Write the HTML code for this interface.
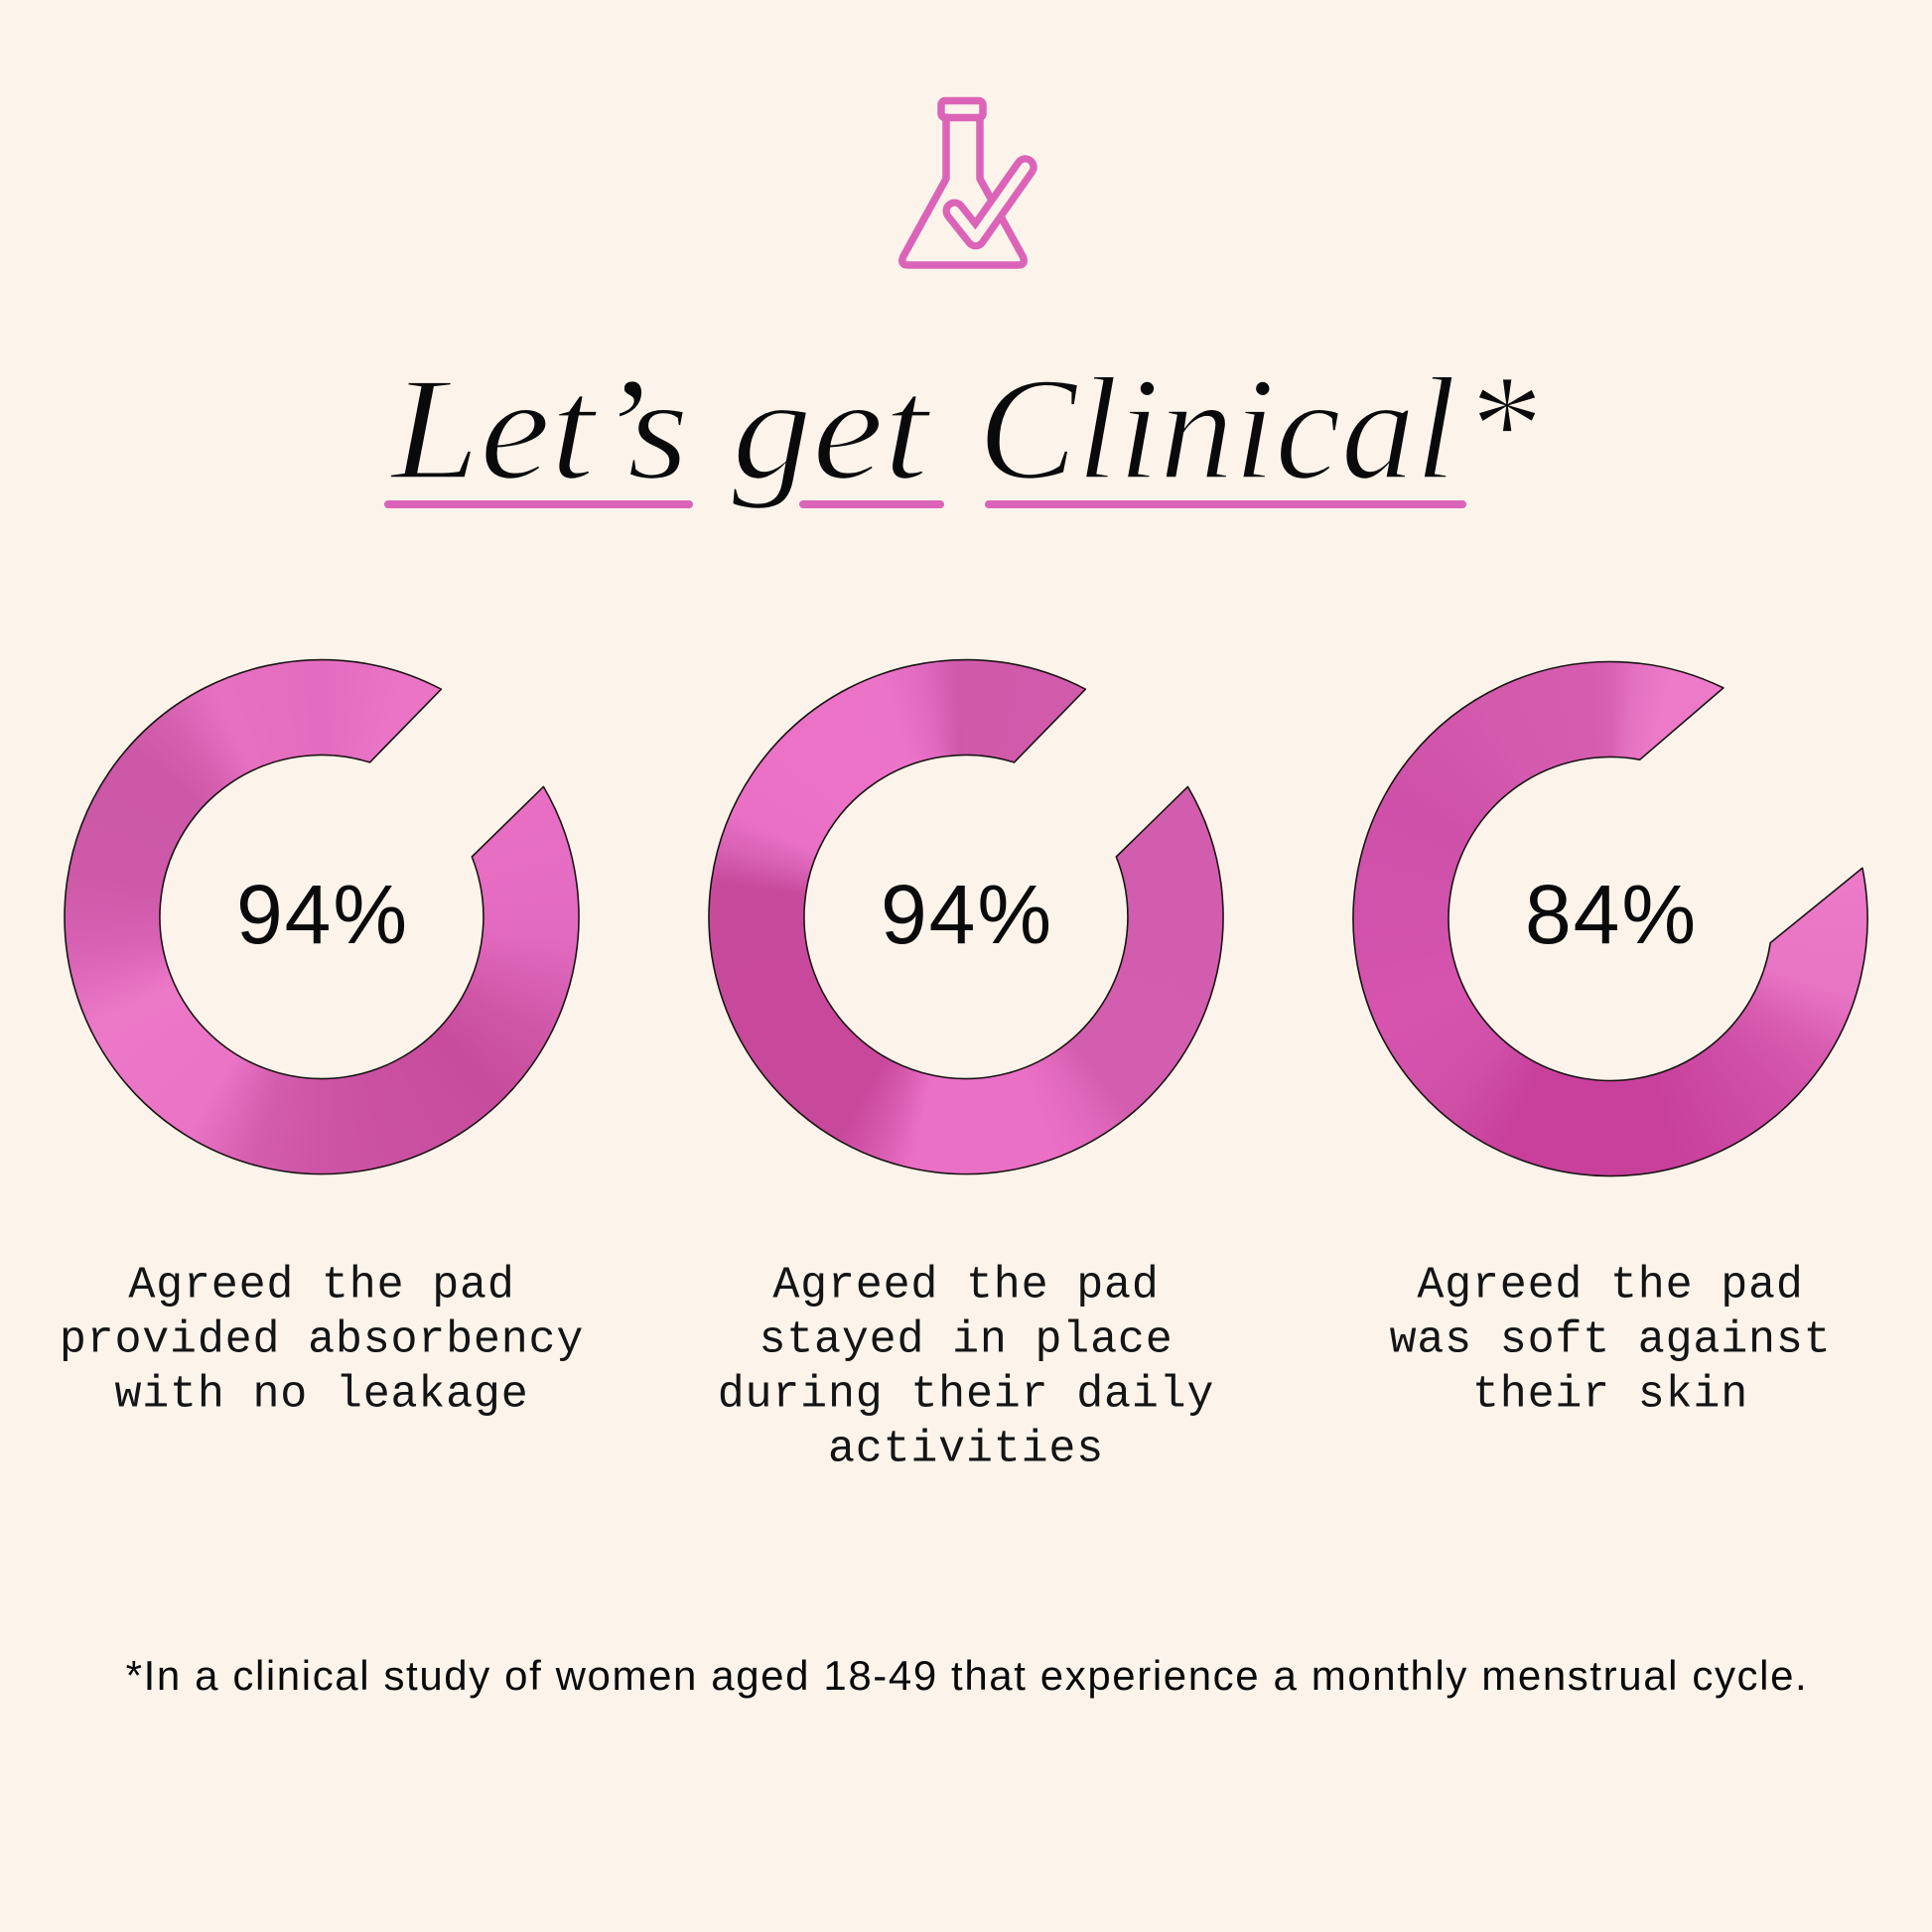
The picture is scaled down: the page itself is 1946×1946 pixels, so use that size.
<!DOCTYPE html>
<html>
<head>
<meta charset="utf-8">
<style>
  html,body{margin:0;padding:0;}
  body{width:1946px;height:1946px;background:#fcf4eb;position:relative;overflow:hidden;}
  .d{position:absolute;left:0;top:0;width:1946px;height:1946px;}
  svg{position:absolute;left:0;top:0;}
</style>
</head>
<body>

<div class="d" style="background:conic-gradient(from 0deg at 324px 923.5px, #e46cc0 0deg, #ea74c6 20deg, #e86fc4 60deg, #e26ac0 95deg, #cf56a6 118deg, #c84c9e 135deg, #cc52a3 175deg, #d45cad 195deg, #ea74c6 212deg, #ec78c8 245deg, #d862b4 262deg, #cd59a8 280deg, #cc58a7 312deg, #d660b0 322deg, #e670c2 335deg, #e46cc0 360deg);clip-path:path('M444.4,694.2 A259,259 0 1 0 547.4,792.4 L475.3,863.0 A163,163 0 1 1 372.5,767.9 Z');"></div>

<div class="d" style="background:conic-gradient(from 0deg at 973px 923.5px, #d05aaa 0deg, #d25cad 60deg, #d35dae 140deg, #e068bc 148deg, #ea70c6 160deg, #ea70c6 192deg, #d85cb0 200deg, #c8489c 210deg, #c84a9d 278deg, #d862b4 286deg, #ea70c6 294deg, #ec74c8 340deg, #e06ac0 350deg, #cf58a9 358deg, #d05aaa 360deg);clip-path:path('M1093.4,694.2 A259,259 0 1 0 1196.4,792.4 L1124.3,863.0 A163,163 0 1 1 1021.5,767.9 Z');"></div>

<div class="d" style="background:conic-gradient(from 0deg at 1622px 925.5px, #d860b2 0deg, #e472c2 6deg, #ec7ac8 14deg, #ec7ac8 80deg, #e874c4 108deg, #d85cb0 122deg, #d050a8 135deg, #c8409c 165deg, #c8409c 205deg, #d050a8 222deg, #d654ae 245deg, #d052aa 275deg, #cf50a9 300deg, #d45aae 330deg, #d65cb0 355deg, #d860b2 360deg);clip-path:path('M1735.9,692.9 A259,259 0 1 0 1875.9,874.3 L1783.2,949.6 A163,163 0 1 1 1651.7,765.2 Z');"></div>

<svg width="1946" height="1946" viewBox="0 0 1946 1946" xmlns="http://www.w3.org/2000/svg">
  <!-- donut outlines -->
  <g fill="none" stroke="#1a1414" stroke-width="1.6" stroke-linejoin="round">
    <path d="M444.4,694.2 A259,259 0 1 0 547.4,792.4 L475.3,863.0 A163,163 0 1 1 372.5,767.9 Z"/>
    <path d="M1093.4,694.2 A259,259 0 1 0 1196.4,792.4 L1124.3,863.0 A163,163 0 1 1 1021.5,767.9 Z"/>
    <path d="M1735.9,692.9 A259,259 0 1 0 1875.9,874.3 L1783.2,949.6 A163,163 0 1 1 1651.7,765.2 Z"/>
  </g>

  <!-- flask icon -->
  <g fill="none" stroke="#dc64b8" stroke-width="7.5" stroke-linejoin="round" stroke-linecap="round">
    <rect x="948" y="101.5" width="42" height="17" rx="4"/>
    <path d="M953,118 V180 L910,258 Q906,267 915,267 H1025 Q1034,267 1030,258 L987,180 V118"/>
  </g>
  <polyline points="961.5,212.5 982.7,239.3 1032.7,168.3" fill="none" stroke="#dc64b8" stroke-width="24" stroke-linecap="round" stroke-linejoin="round"/>
  <polyline points="961.5,212.5 982.7,239.3 1032.7,168.3" fill="none" stroke="#fcf4eb" stroke-width="9.5" stroke-linecap="round" stroke-linejoin="round"/>

  <!-- title -->
  <g font-family="'Liberation Serif', serif" font-style="italic" font-size="148" fill="#0a0a0a" stroke="#fcf4eb" stroke-width="2.5">
    <text x="394" y="481.5" textLength="300" lengthAdjust="spacingAndGlyphs">Let’s</text>
    <text x="737" y="481.5" textLength="198" lengthAdjust="spacingAndGlyphs">get</text>
    <text x="985" y="481.5" textLength="482" lengthAdjust="spacingAndGlyphs">Clinical</text>
    <text x="1474" y="478">*</text>
  </g>
  <g stroke="#dc64b8" stroke-width="8" stroke-linecap="round">
    <line x1="391" y1="508" x2="694" y2="508"/>
    <line x1="809" y1="508" x2="947" y2="508"/>
    <line x1="996" y1="508" x2="1473" y2="508"/>
  </g>

  <!-- percentages -->
  <g font-family="'Liberation Sans', sans-serif" font-size="84" fill="#0a0a0a" text-anchor="middle" letter-spacing="2">
    <text x="325" y="950">94%</text>
    <text x="974" y="950">94%</text>
    <text x="1623" y="950">84%</text>
  </g>

  <!-- captions -->
  <g font-family="'Liberation Mono', monospace" font-size="45" fill="#141414" text-anchor="middle" letter-spacing="0.8">
    <text x="324" y="1306.5">Agreed the pad</text>
    <text x="324" y="1361.5">provided absorbency</text>
    <text x="324" y="1416.5">with no leakage</text>

    <text x="973" y="1306.5">Agreed the pad</text>
    <text x="973" y="1361.5">stayed in place</text>
    <text x="973" y="1416.5">during their daily</text>
    <text x="973" y="1471.5">activities</text>

    <text x="1622" y="1306.5">Agreed the pad</text>
    <text x="1622" y="1361.5">was soft against</text>
    <text x="1622" y="1416.5">their skin</text>
  </g>

  <!-- footnote -->
  <text x="974" y="1702" font-family="'Liberation Sans', sans-serif" font-size="42" letter-spacing="1.6" fill="#0a0a0a" text-anchor="middle">*In a clinical study of women aged 18-49 that experience a monthly menstrual cycle.</text>
</svg>

</body>
</html>
